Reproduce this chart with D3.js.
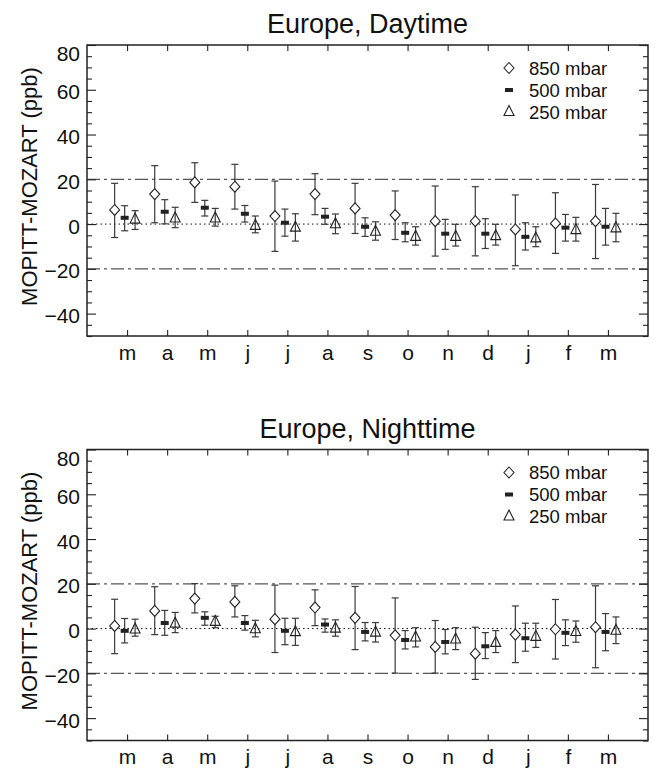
<!DOCTYPE html>
<html>
<head>
<meta charset="utf-8">
<script src="https://cdn.jsdelivr.net/npm/d3@7"></script>
<style>
  html, body { margin: 0; padding: 0; background: #fff; }
  svg { display: block; font-family: "Liberation Sans", Arial, Helvetica, sans-serif; }
</style>
</head>
<body>
<svg id="chart" width="653" height="770"></svg>
<script>
// ---------------- data ----------------
const months = ["m","a","m","j","j","a","s","o","n","d","j","f","m"];
const yTicks = [-40, -20, 0, 20, 40, 60, 80];
const seriesNames = ["850 mbar", "500 mbar", "250 mbar"];

// Daytime
const day850   = [6.3, 13.4, 18.6, 16.7, 3.6, 13.4, 7.0, 4.0, 1.3, 1.3, -2.4, 0.3, 1.3];
const day850Lo = [-6.0, 0.6, 9.7, 6.7, -12.2, 4.2, -4.2, -6.9, -14.3, -14.2, -18.6, -13.1, -15.4];
const day850Hi = [18.2, 26.1, 27.4, 26.7, 19.2, 22.5, 18.2, 14.8, 17.0, 16.7, 13.0, 14.0, 17.7];
const day500   = [2.8, 5.5, 7.3, 4.6, 0.6, 3.3, -1.2, -3.9, -4.3, -4.3, -5.7, -1.6, -1.2];
const day500Lo = [-3.0, 0.1, 3.6, 0.9, -5.4, -0.1, -5.5, -7.9, -11.3, -10.9, -11.6, -7.6, -9.4];
const day500Hi = [8.2, 10.9, 10.6, 8.3, 6.7, 7.0, 2.8, 0.6, 2.1, 2.4, 0.6, 4.3, 7.0];
const day250   = [2.0, 2.5, 2.5, -0.8, -1.6, -0.1, -3.4, -5.7, -5.7, -5.4, -6.4, -2.7, -1.9];
const day250Lo = [-2.4, -1.6, -0.9, -3.9, -7.6, -4.3, -7.2, -9.4, -9.8, -9.4, -10.1, -7.6, -7.9];
const day250Hi = [6.0, 7.5, 7.0, 3.6, 4.6, 4.5, 1.0, -1.2, -0.1, -0.1, -1.2, 3.0, 4.8];

// Nighttime
const night850   = [1.2, 7.9, 13.4, 11.9, 4.2, 9.4, 4.8, -3.0, -8.2, -11.2, -2.7, -0.3, 0.6];
const night850Lo = [-11.2, -2.7, 7.0, 5.2, -10.7, 1.3, -9.4, -19.9, -19.9, -22.7, -15.2, -13.6, -17.5];
const night850Hi = [13.1, 18.7, 20.1, 19.1, 19.4, 17.3, 18.8, 13.7, 3.6, 0.6, 10.1, 13.0, 19.1];
const night500   = [-1.0, 2.5, 4.8, 2.5, -1.0, 1.8, -1.5, -5.1, -6.0, -7.9, -4.3, -1.9, -1.5];
const night500Lo = [-6.4, -3.0, 1.5, -0.7, -7.2, -1.6, -5.5, -9.1, -11.3, -13.4, -10.1, -7.6, -9.9];
const night500Hi = [4.5, 8.1, 7.5, 5.8, 4.6, 4.3, 2.7, -0.9, -0.4, -1.8, 2.4, 3.9, 6.7];
const night250   = [-0.4, 2.2, 3.0, -0.3, -1.6, 0.0, -1.8, -4.0, -4.9, -6.4, -3.7, -1.5, -1.0];
const night250Lo = [-3.4, -1.8, 0.4, -3.7, -7.5, -3.4, -6.0, -8.2, -9.4, -10.7, -8.4, -6.1, -6.7];
const night250Hi = [4.2, 7.2, 5.5, 3.7, 4.6, 3.9, 2.7, 0.4, 0.4, -0.9, 2.4, 3.4, 5.2];

// ---------------- drawing ----------------
const svg = d3.select("#chart");
const left = 87, right = 648;
const ink = "#222";

const diamondPath = "M0,-5.5L5,0L0,5.5L-5,0Z";
const trianglePath = "M0,-6.5L5,3.5L-5,3.5Z";

function drawMarker(g, kind, x, y) {
  if (kind === 0) {
    g.append("path").attr("d", diamondPath).attr("transform", `translate(${x},${y})`)
      .attr("fill", "#fff").attr("stroke", ink).attr("stroke-width", 1.1);
  } else if (kind === 1) {
    g.append("rect").attr("x", x - 4).attr("y", y - 2).attr("width", 8).attr("height", 4)
      .attr("fill", ink);
  } else {
    g.append("path").attr("d", trianglePath).attr("transform", `translate(${x},${y})`)
      .attr("fill", "none").attr("stroke", ink).attr("stroke-width", 1.1);
  }
}

function drawPanel(top, bottom, title, series) {
  const g = svg.append("g");
  const x = d3.scaleLinear().domain([-1, 13]).range([left, right]);
  const y = d3.scaleLinear().domain([-50, 80]).range([bottom, top]);

  // title
  g.append("text").attr("x", (left + right) / 2).attr("y", top - 12)
    .attr("text-anchor", "middle").attr("font-size", 27).attr("fill", "#111").text(title);

  // y label
  g.append("text")
    .attr("transform", `translate(37,${(top + bottom) / 2 - 4}) rotate(-90)`)
    .attr("text-anchor", "middle").attr("font-size", 22).attr("fill", "#111")
    .text("MOPITT-MOZART (ppb)");

  // reference lines
  [20, -20].forEach(v => {
    g.append("line").attr("x1", left).attr("x2", right).attr("y1", y(v)).attr("y2", y(v))
      .attr("stroke", "#555").attr("stroke-width", 1.2).attr("stroke-dasharray", "13,4,3,4");
  });
  g.append("line").attr("x1", left).attr("x2", right).attr("y1", y(0)).attr("y2", y(0))
    .attr("stroke", "#111").attr("stroke-width", 1).attr("stroke-dasharray", "1.5,3");

  // axes: minor y ticks
  const minorVals = d3.range(-50, 81, 5).filter(v => v % 20 !== 0 || v === -50);
  const styleAxis = sel => {
    sel.select(".domain").remove();
    sel.selectAll(".tick line").attr("stroke", ink).attr("stroke-width", 1.1);
  };
  g.append("g").attr("transform", `translate(${left},0)`)
    .call(d3.axisLeft(y).tickValues(minorVals).tickSize(-5).tickFormat(""))
    .call(styleAxis);
  g.append("g").attr("transform", `translate(${right},0)`)
    .call(d3.axisRight(y).tickValues(minorVals).tickSize(-5).tickFormat(""))
    .call(styleAxis);
  const yl = g.append("g").attr("transform", `translate(${left},0)`)
    .call(d3.axisLeft(y).tickValues(yTicks).tickSize(-9).tickPadding(7).tickFormat(d3.format("d")))
    .call(styleAxis);
  yl.selectAll(".tick text").attr("font-size", 21).attr("fill", "#111")
    .attr("font-family", "'Liberation Sans', Arial, sans-serif")
    .attr("dy", d => d === 80 ? "0.75em" : "0.43em");
  g.append("g").attr("transform", `translate(${right},0)`)
    .call(d3.axisRight(y).tickValues(yTicks).tickSize(-9).tickFormat(""))
    .call(styleAxis);

  // x axes
  const xIdx = d3.range(months.length);
  const xb = g.append("g").attr("transform", `translate(0,${bottom})`)
    .call(d3.axisBottom(x).tickValues(xIdx).tickSize(-6).tickPadding(9).tickFormat(i => months[i]))
    .call(styleAxis);
  xb.selectAll(".tick text").attr("font-size", 21).attr("fill", "#111")
    .attr("font-family", "'Liberation Sans', Arial, sans-serif");
  g.append("g").attr("transform", `translate(0,${top})`)
    .call(d3.axisTop(x).tickValues(xIdx).tickSize(-6).tickFormat(""))
    .call(styleAxis);

  // frame
  g.append("rect").attr("x", left).attr("y", top).attr("width", right - left).attr("height", bottom - top)
    .attr("fill", "none").attr("stroke", ink).attr("stroke-width", 1.5);

  // data
  const offsets = [-0.31, -0.06, 0.2];
  series.forEach((s, k) => {
    const sg = g.append("g");
    s.val.forEach((v, i) => {
      const cx = x(i + offsets[k]);
      const y1 = y(s.hi[i]), y2 = y(s.lo[i]);
      sg.append("line").attr("x1", cx).attr("x2", cx).attr("y1", y1).attr("y2", y2)
        .attr("stroke", "#3a3a3a").attr("stroke-width", 1.2);
      [y1, y2].forEach(yy => sg.append("line").attr("x1", cx - 3.5).attr("x2", cx + 3.5)
        .attr("y1", yy).attr("y2", yy).attr("stroke", "#3a3a3a").attr("stroke-width", 1.2));
    });
  });
  series.forEach((s, k) => {
    const mg = g.append("g");
    s.val.forEach((v, i) => drawMarker(mg, k, x(i + offsets[k]), y(v)));
  });

  // legend
  const lg = g.append("g");
  seriesNames.forEach((name, k) => {
    const ly = top + 23 + k * 22;
    drawMarker(lg, k, 509, ly);
    lg.append("text").attr("x", 529).attr("y", ly + 6.5).attr("font-size", 18.5).attr("fill", "#111")
      .text(name);
  });
}

drawPanel(45, 336, "Europe, Daytime", [
  {val: day850, lo: day850Lo, hi: day850Hi},
  {val: day500, lo: day500Lo, hi: day500Hi},
  {val: day250, lo: day250Lo, hi: day250Hi}
]);
drawPanel(449.5, 740.5, "Europe, Nighttime", [
  {val: night850, lo: night850Lo, hi: night850Hi},
  {val: night500, lo: night500Lo, hi: night500Hi},
  {val: night250, lo: night250Lo, hi: night250Hi}
]);
</script>
</body>
</html>
